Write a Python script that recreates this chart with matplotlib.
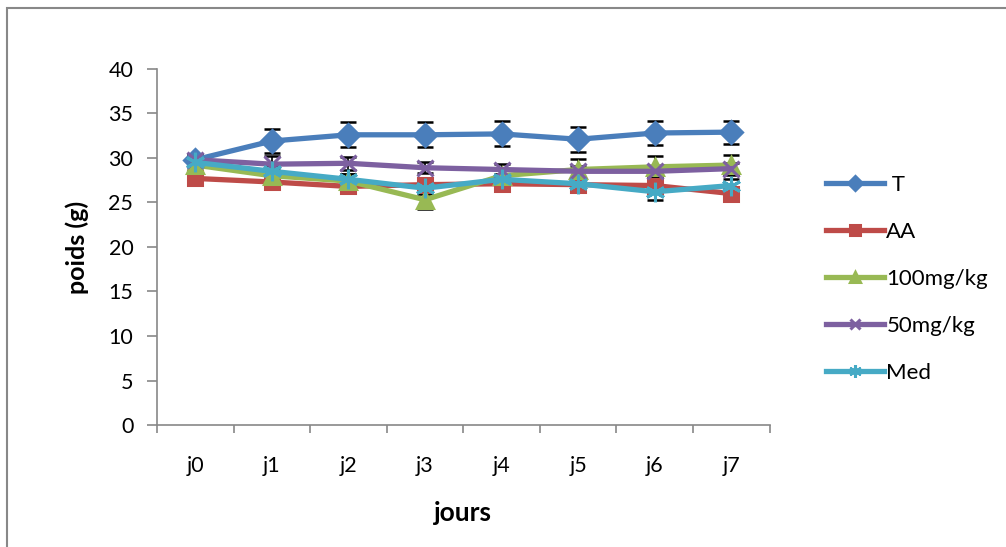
import numpy as np
import matplotlib.pyplot as plt
from matplotlib.patches import Rectangle

jours = ["j0", "j1", "j2", "j3", "j4", "j5", "j6", "j7"]

poids_T = [29.8, 31.9, 32.6, 32.6, 32.7, 32.1, 32.8, 32.9]
poids_AA = [27.7, 27.3, 26.8, 27.0, 27.1, 27.0, 26.9, 26.0]
poids_100 = [29.2, 28.0, 27.4, 25.3, 28.0, 28.7, 29.0, 29.2]
poids_50 = [29.8, 29.3, 29.4, 28.9, 28.7, 28.5, 28.5, 28.8]
poids_med = [29.5, 28.5, 27.6, 26.6, 27.6, 27.1, 26.2, 26.9]

err_T = [0.6, 1.3, 1.4, 1.4, 1.4, 1.4, 1.4, 1.3]
err_AA = [0.5, 0.6, 0.6, 0.7, 0.6, 0.6, 0.7, 0.6]
err_100 = [0.6, 0.9, 0.8, 1.0, 0.8, 1.2, 1.2, 1.1]
err_50 = [0.5, 0.9, 0.7, 0.6, 0.6, 0.6, 0.6, 0.6]
err_med = [0.5, 0.6, 0.6, 0.6, 0.6, 0.5, 0.9, 0.7]

series = [
    (" T", poids_T, err_T, "#4A7EBB", "D", 11),
    ("AA", poids_AA, err_AA, "#BE4B48", "s", 10.5),
    ("100mg/kg", poids_100, err_100, "#98B954", "^", 12),
    ("50mg/kg", poids_50, err_50, "#7D60A0", "x", 11),
    ("Med", poids_med, err_med, "#46AAC5", (6, 2, 0), 14),
]

plt.rcParams["font.family"] = ["Lato", "DejaVu Sans"]

fig = plt.figure(figsize=(10.06, 5.47), dpi=100)
ax = fig.add_axes([0.156, 0.223, 0.609, 0.651])

x = np.arange(len(jours))
for nom, y, e, c, m, ms in series:
    ax.errorbar(x, y, yerr=e, fmt="none", ecolor="black", elinewidth=1.2,
                capsize=6, capthick=1.8, zorder=2)
    ax.plot(x, y, color=c, lw=3.8, marker=m, markersize=ms, mew=2.2,
            mec=c, mfc=c, label=nom, zorder=3)

ax.set_xlim(-0.5, len(jours) - 0.5)
ax.set_ylim(0, 40)
ax.set_yticks(range(0, 41, 5))
ax.set_xticks(x)
ax.set_xticklabels(jours)
ax.set_xticks(np.arange(-0.5, len(jours), 1), minor=True)
ax.tick_params(axis="x", which="major", length=0, labelsize=15.5, pad=22)
ax.tick_params(axis="x", which="minor", length=6, color="#888888", width=1.2)
ax.tick_params(axis="y", length=7, color="#888888", width=1.2, labelsize=15.5, pad=10)

for s in ["top", "right"]:
    ax.spines[s].set_visible(False)
for s in ["left", "bottom"]:
    ax.spines[s].set_color("#888888")
    ax.spines[s].set_linewidth(1.2)

ax.set_xlabel("jours", fontsize=19, fontweight="bold", labelpad=18)
ax.set_ylabel("poids (g)", fontsize=18, fontweight="bold", labelpad=14)

ax.legend(loc="center left", bbox_to_anchor=(1.06, 0.41), frameon=False,
          fontsize=16, labelspacing=1.22, handlelength=2.6, handletextpad=0.1,
          markerscale=0.65)

fig.patches.append(Rectangle((0.007, -0.01), 1.1, 0.995, transform=fig.transFigure,
                             fill=False, edgecolor="#888888", lw=1.5))

fig.savefig("out.png", dpi=100)
